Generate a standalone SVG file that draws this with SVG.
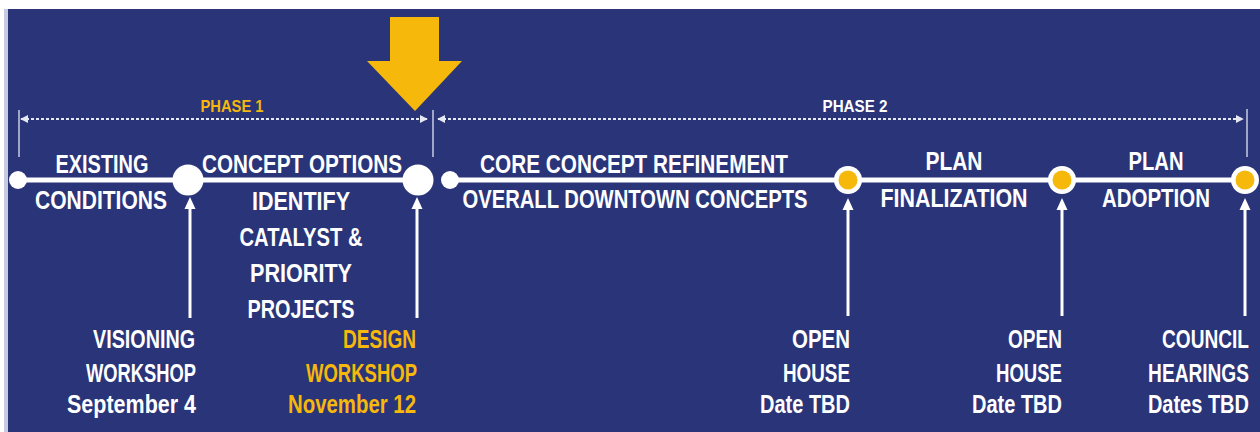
<svg xmlns="http://www.w3.org/2000/svg" width="1260" height="432" viewBox="0 0 1260 432">
  <style>
    .lbl { font-family: "Liberation Sans", "DejaVu Sans Condensed", sans-serif; font-weight: bold; font-size: 25px; fill: #ffffff; }
    .mid { text-anchor: middle; }
    .end { text-anchor: end; }
    .hl { fill: #f6b80b; }
    .phase { font-family: "Liberation Sans", "DejaVu Sans Condensed", sans-serif; font-weight: bold; font-size: 17px; text-anchor: middle; }
    .span { stroke: #e6e9f4; stroke-width: 2; stroke-dasharray: 3 2; fill: none; }
    .tick { stroke: #c9cde3; stroke-width: 1.5; }
    .track { stroke: #ffffff; stroke-width: 5; }
    .dot { fill: #ffffff; }
    .gold { fill: #f6b80b; }
    .rise { stroke: #ffffff; stroke-width: 3; }
    .head { fill: #ffffff; }
  </style>
  <defs>
    <marker id="tipL" viewBox="0 0 10 10" refX="1" refY="5" markerWidth="4" markerHeight="4" orient="auto" markerUnits="strokeWidth">
      <path d="M10,0 L0,5 L10,10 Z" fill="#e6e9f4"/>
    </marker>
    <marker id="tipR" viewBox="0 0 10 10" refX="9" refY="5" markerWidth="4" markerHeight="4" orient="auto" markerUnits="strokeWidth">
      <path d="M0,0 L10,5 L0,10 Z" fill="#e6e9f4"/>
    </marker>
    <path id="uphead" d="M-5.5,12 L0,0 L5.5,12 Z"/>
  </defs>

  <!-- page and panel -->
  <rect x="0" y="0" width="1260" height="432" fill="#ffffff"/>
  <rect x="4" y="9" width="4" height="423" fill="#c8cbe0"/>
  <rect x="8" y="9" width="1252" height="423" fill="#2a3479"/>

  <!-- current-stage pointer -->
  <path id="pointer" d="M390,17 H439 V61 H462 L415,111 L367,61 H390 Z" fill="#f6b80b"/>

  <!-- phase spans -->
  <g id="phase1">
    <line class="tick" x1="19" y1="110" x2="19" y2="157"/>
    <line class="span" x1="21" y1="119" x2="427" y2="119" marker-start="url(#tipL)" marker-end="url(#tipR)"/>
    <text class="phase hl" x="232" y="112" textLength="63" lengthAdjust="spacingAndGlyphs">PHASE 1</text>
  </g>
  <g id="phase2">
    <line class="tick" x1="433" y1="110" x2="433" y2="157"/>
    <line class="tick" x1="1247" y1="109" x2="1247" y2="157"/>
    <line class="span" x1="438" y1="119" x2="1243" y2="119" marker-start="url(#tipL)" marker-end="url(#tipR)"/>
    <text class="phase" x="855" y="112" fill="#ffffff" textLength="65" lengthAdjust="spacingAndGlyphs">PHASE 2</text>
  </g>

  <!-- connectors: timeline track and event arrows -->
  <g id="connectors">
    <line class="track" x1="18" y1="180" x2="418" y2="180"/>
    <line class="track" x1="450" y1="180" x2="1245" y2="180"/>
    <line class="rise" x1="190" y1="318" x2="190" y2="206"/>
    <use class="head" href="#uphead" x="190" y="197"/>
    <line class="rise" x1="417" y1="318" x2="417" y2="206"/>
    <use class="head" href="#uphead" x="417" y="197"/>
    <line class="rise" x1="848" y1="316" x2="848" y2="206"/>
    <use class="head" href="#uphead" x="848" y="198"/>
    <line class="rise" x1="1062" y1="316" x2="1062" y2="206"/>
    <use class="head" href="#uphead" x="1062" y="198"/>
    <line class="rise" x1="1245" y1="316" x2="1245" y2="206"/>
    <use class="head" href="#uphead" x="1245" y="198"/>
  </g>

  <!-- milestones -->
  <g id="m-start"><circle class="dot" cx="18" cy="180" r="9"/></g>
  <g id="m-visioning"><circle class="dot" cx="188" cy="180" r="15.5"/></g>
  <g id="m-design"><circle class="dot" cx="418" cy="180" r="15.5"/></g>
  <g id="m-phase2"><circle class="dot" cx="450" cy="180" r="9"/></g>
  <g id="m-open1"><circle class="dot" cx="848" cy="180" r="14"/><circle class="gold" cx="848" cy="180" r="9.5"/></g>
  <g id="m-open2"><circle class="dot" cx="1062" cy="180" r="14"/><circle class="gold" cx="1062" cy="180" r="9.5"/></g>
  <g id="m-council"><circle class="dot" cx="1245" cy="180" r="14"/><circle class="gold" cx="1245" cy="180" r="9.5"/></g>

  <!-- stage labels -->
  <g id="existing-conditions">
    <text class="lbl mid" x="102" y="173" textLength="93" lengthAdjust="spacingAndGlyphs">EXISTING</text>
    <text class="lbl mid" x="101" y="209" textLength="132" lengthAdjust="spacingAndGlyphs">CONDITIONS</text>
  </g>
  <g id="concept-options">
    <text class="lbl mid" x="302" y="173" textLength="200" lengthAdjust="spacingAndGlyphs">CONCEPT OPTIONS</text>
    <text class="lbl mid" x="301" y="210" textLength="98" lengthAdjust="spacingAndGlyphs">IDENTIFY</text>
    <text class="lbl mid" x="301" y="246" textLength="123" lengthAdjust="spacingAndGlyphs">CATALYST &amp;</text>
    <text class="lbl mid" x="301" y="282" textLength="102" lengthAdjust="spacingAndGlyphs">PRIORITY</text>
    <text class="lbl mid" x="301" y="318" textLength="107" lengthAdjust="spacingAndGlyphs">PROJECTS</text>
  </g>
  <g id="core-concept">
    <text class="lbl mid" x="634" y="173" textLength="308" lengthAdjust="spacingAndGlyphs">CORE CONCEPT REFINEMENT</text>
    <text class="lbl mid" x="635" y="208" textLength="345" lengthAdjust="spacingAndGlyphs">OVERALL DOWNTOWN CONCEPTS</text>
  </g>
  <g id="plan-finalization">
    <text class="lbl mid" x="954" y="170" textLength="57" lengthAdjust="spacingAndGlyphs">PLAN</text>
    <text class="lbl mid" x="954" y="207" textLength="147" lengthAdjust="spacingAndGlyphs">FINALIZATION</text>
  </g>
  <g id="plan-adoption">
    <text class="lbl mid" x="1156" y="170" textLength="55" lengthAdjust="spacingAndGlyphs">PLAN</text>
    <text class="lbl mid" x="1156" y="207" textLength="108" lengthAdjust="spacingAndGlyphs">ADOPTION</text>
  </g>

  <!-- event labels -->
  <g id="visioning-workshop">
    <text class="lbl end" x="195" y="348" textLength="102" lengthAdjust="spacingAndGlyphs">VISIONING</text>
    <text class="lbl end" x="196" y="382" textLength="110" lengthAdjust="spacingAndGlyphs">WORKSHOP</text>
    <text class="lbl end" x="196" y="413" textLength="129" lengthAdjust="spacingAndGlyphs">September 4</text>
  </g>
  <g id="design-workshop">
    <text class="lbl end hl" x="416" y="348" textLength="73" lengthAdjust="spacingAndGlyphs">DESIGN</text>
    <text class="lbl end hl" x="417" y="382" textLength="111" lengthAdjust="spacingAndGlyphs">WORKSHOP</text>
    <text class="lbl end hl" x="416" y="413" textLength="128" lengthAdjust="spacingAndGlyphs">November 12</text>
  </g>
  <g id="open-house-1">
    <text class="lbl end" x="850" y="348" textLength="58" lengthAdjust="spacingAndGlyphs">OPEN</text>
    <text class="lbl end" x="850" y="382" textLength="67" lengthAdjust="spacingAndGlyphs">HOUSE</text>
    <text class="lbl end" x="850" y="413" textLength="90" lengthAdjust="spacingAndGlyphs">Date TBD</text>
  </g>
  <g id="open-house-2">
    <text class="lbl end" x="1062" y="348" textLength="54" lengthAdjust="spacingAndGlyphs">OPEN</text>
    <text class="lbl end" x="1062" y="382" textLength="66" lengthAdjust="spacingAndGlyphs">HOUSE</text>
    <text class="lbl end" x="1062" y="413" textLength="90" lengthAdjust="spacingAndGlyphs">Date TBD</text>
  </g>
  <!-- right-most labels are narrowed with a horizontal scale so they stay inside the panel -->
  <g id="council-hearings">
    <text class="lbl end" transform="translate(1249,348) scale(0.764,1)">COUNCIL</text>
    <text class="lbl end" transform="translate(1249,382) scale(0.765,1)">HEARINGS</text>
    <text class="lbl end" transform="translate(1249,413) scale(0.8,1)">Dates TBD</text>
  </g>
</svg>
